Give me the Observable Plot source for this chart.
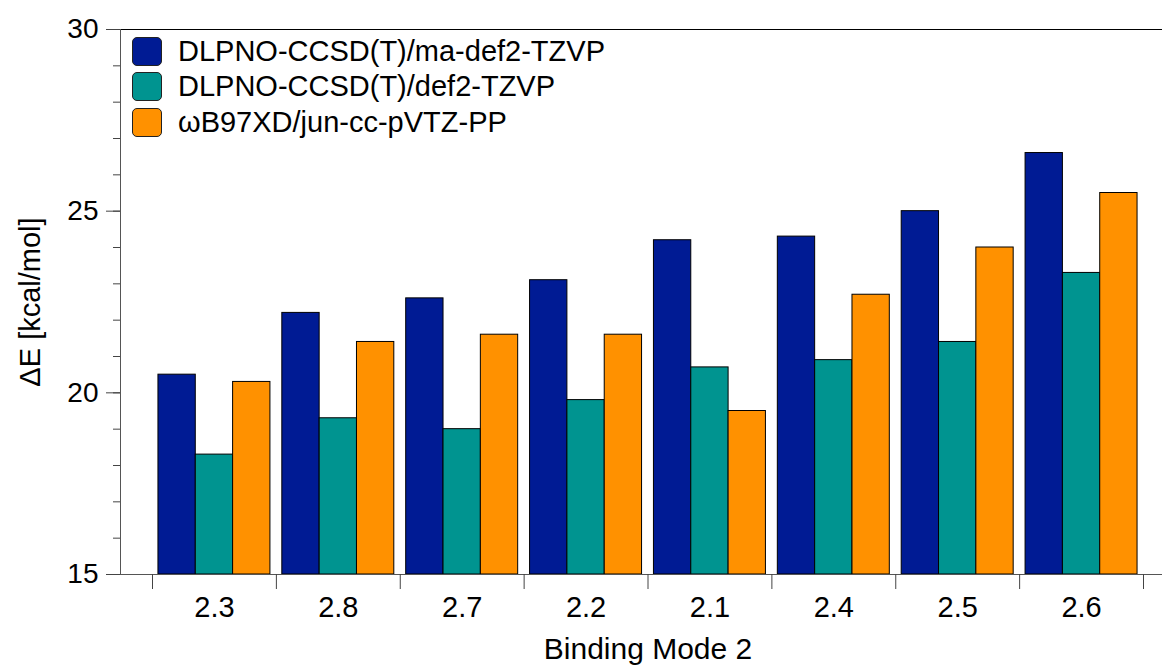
<!DOCTYPE html>
<html><head><meta charset="utf-8">
<script src="https://cdn.jsdelivr.net/npm/d3@7"></script>
<script src="https://cdn.jsdelivr.net/npm/@observablehq/plot@0.6"></script>
<style>
body{margin:0;background:#fff;}
#chart{position:relative;width:1162px;height:666px;font-family:Helvetica,"Liberation Sans",Arial,sans-serif;color:#000;}
.legend{position:absolute;left:132px;top:34px;}
.row{display:flex;align-items:center;height:35.3px;font-size:29px;line-height:1;}
.sw{width:30px;height:29px;border:1px solid #222;border-radius:5px;margin-right:16px;box-sizing:border-box;flex:none;}
</style></head><body><div id="chart"></div>
<script>
const groups = ["2.3","2.8","2.7","2.2","2.1","2.4","2.5","2.6"];
const seriesNames = ["DLPNO-CCSD(T)/ma-def2-TZVP","DLPNO-CCSD(T)/def2-TZVP","ωB97XD/jun-cc-pVTZ-PP"];
const maDef2 = [20.5,22.2,22.6,23.1,24.2,24.3,25.0,26.6];
const def2 = [18.3,19.3,19.0,19.8,20.7,20.9,21.4,23.3];
const wb97xd = [20.3,21.4,21.6,21.6,19.5,22.7,24.0,25.5];
const colors = ["#001B94","#009490","#FF9100"];
const yTicks = [15,20,25,30];
const yMinorTicks = d3.range(15,31);
const yDomain = [15,30];
const xTitle = "Binding Mode 2";
const yTitle = "ΔE [kcal/mol]";

const seriesValues = [maDef2, def2, wb97xd];
const pad = 0.048;
const w = (1 - 2*pad) / seriesNames.length;
const rows = [];
groups.forEach((g, i) => seriesValues.forEach((vals, j) => {
  rows.push({group: g, series: seriesNames[j], value: vals[i], x1: i + pad + j*w, x2: i + pad + (j+1)*w});
}));

const chart = Plot.plot({
  width: 1162, height: 666,
  marginTop: 29, marginBottom: 92, marginLeft: 120, marginRight: 0,
  style: {fontFamily: 'Helvetica,"Liberation Sans",Arial,sans-serif', fontSize: "28px", color: "#000", background: "#fff"},
  x: {type: "linear", domain: [0, groups.length], range: [152, 1143]},
  y: {domain: yDomain},
  color: {domain: seriesNames, range: colors},
  marks: [
    Plot.rect(rows, {x1: "x1", x2: "x2", y1: yDomain[0], y2: "value", fill: "series", stroke: "#000", strokeWidth: 1}),
    Plot.frame({anchor: "top", stroke: "#000"}),
    Plot.frame({anchor: "bottom", stroke: "#555"}),
    Plot.frame({anchor: "left", stroke: "#555"}),
    Plot.axisY({ticks: yMinorTicks, tickSize: 7, tickFormat: () => "", label: null, stroke: "#444"}),
    Plot.axisY({ticks: yTicks, tickSize: 14, tickPadding: 8, label: null, stroke: "#444", fontSize: 28}),
    Plot.axisX({ticks: d3.range(0, groups.length + 1), tickSize: 15, tickFormat: () => "", label: null, stroke: "#444"}),
    Plot.axisX({ticks: d3.range(groups.length).map(i => i + 0.5), tickSize: 0, tickPadding: 22, tickFormat: d => groups[Math.floor(d)], label: null, fontSize: 29}),
    Plot.text([yTitle], {frameAnchor: "left", dx: -90, rotate: -90, textAnchor: "middle", fontSize: 29}),
    Plot.text([xTitle], {x: () => groups.length / 2, frameAnchor: "bottom", dy: 84, textAnchor: "middle", fontSize: 30})
  ]
});
const root = document.getElementById("chart");
root.appendChild(chart);
const legend = document.createElement("div");
legend.className = "legend";
seriesNames.forEach((name, j) => {
  const row = document.createElement("div");
  row.className = "row";
  const sw = document.createElement("div");
  sw.className = "sw";
  sw.style.background = colors[j];
  const t = document.createElement("span");
  t.textContent = name;
  row.appendChild(sw); row.appendChild(t);
  legend.appendChild(row);
});
root.appendChild(legend);
</script></body></html>
